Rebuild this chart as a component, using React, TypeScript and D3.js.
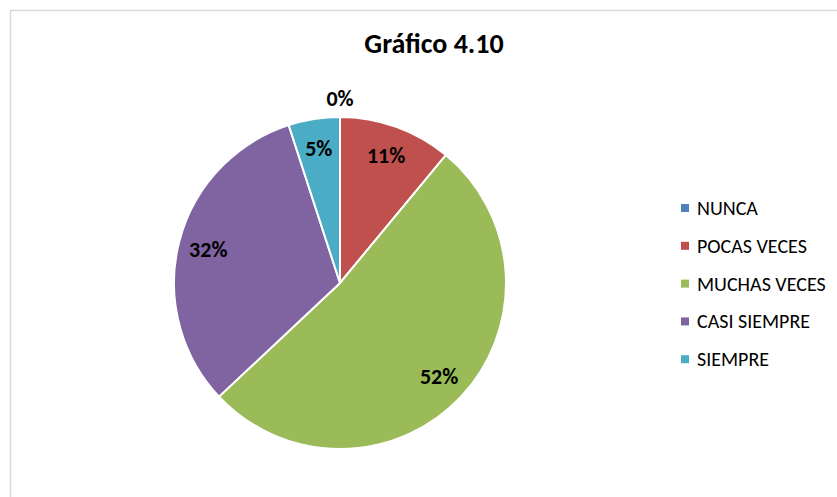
import React from "react";
import * as d3 from "d3";

const categories = ["NUNCA", "POCAS VECES", "MUCHAS VECES", "CASI SIEMPRE", "SIEMPRE"];
const values = [0, 11, 52, 32, 5];
const colors = ["#4F81BD", "#C0504D", "#9BBB59", "#8064A2", "#4BACC6"];
const title = "Gráfico 4.10";

const W = 837;
const H = 497;

export default function App() {
  const cx = 340;
  const cy = 283;
  const r = 166;
  const total = d3.sum(values);
  const pie = d3.pie<number>().value((d) => d).sort(null);
  const arcs = pie(values);
  const arc = d3.arc<d3.PieArcDatum<number>>().innerRadius(0).outerRadius(r);
  const labelArc = d3.arc<d3.PieArcDatum<number>>().innerRadius(136).outerRadius(136);
  const outerLabelArc = d3.arc<d3.PieArcDatum<number>>().innerRadius(185).outerRadius(185);
  const font = "Carlito, Lato, sans-serif";
  return (
    <svg
      width={W}
      height={H}
      style={{ position: "absolute", left: 0, top: 0, display: "block" }}
    >
      <rect x={0} y={0} width={W} height={H} fill="#fff" />
      <rect x={10.5} y={10.5} width={W + 20} height={H + 20} fill="#fff" stroke="#d9d9d9" strokeWidth={1.5} />
      <text x={434} y={53} textAnchor="middle" fontFamily={font} fontWeight="bold" fontSize={28} fill="#000">
        {title}
      </text>
      <g transform={`translate(${cx},${cy})`}>
        {arcs.map((a, i) => (
          <path key={i} d={arc(a) || ""} fill={colors[i]} stroke="#fff" strokeWidth={2} />
        ))}
        {arcs.map((a, i) => {
          const [x, y] = values[i] === 0 ? outerLabelArc.centroid(a) : labelArc.centroid(a);
          return (
            <text
              key={i}
              x={x}
              y={y}
              textAnchor="middle"
              dominantBaseline="central"
              fontFamily={font}
              fontWeight="bold"
              fontSize={22}
              fill="#000"
            >
              {Math.round((values[i] / total) * 100)}%
            </text>
          );
        })}
      </g>
      <g>
        {categories.map((c, i) => {
          const y = 208 + i * 37.8;
          return (
            <g key={c}>
              <rect x={681} y={y - 4} width={8} height={8} fill={colors[i]} />
              <text x={697} y={y} dominantBaseline="central" fontFamily={font} fontSize={20} fill="#000">
                {c}
              </text>
            </g>
          );
        })}
      </g>
    </svg>
  );
}
